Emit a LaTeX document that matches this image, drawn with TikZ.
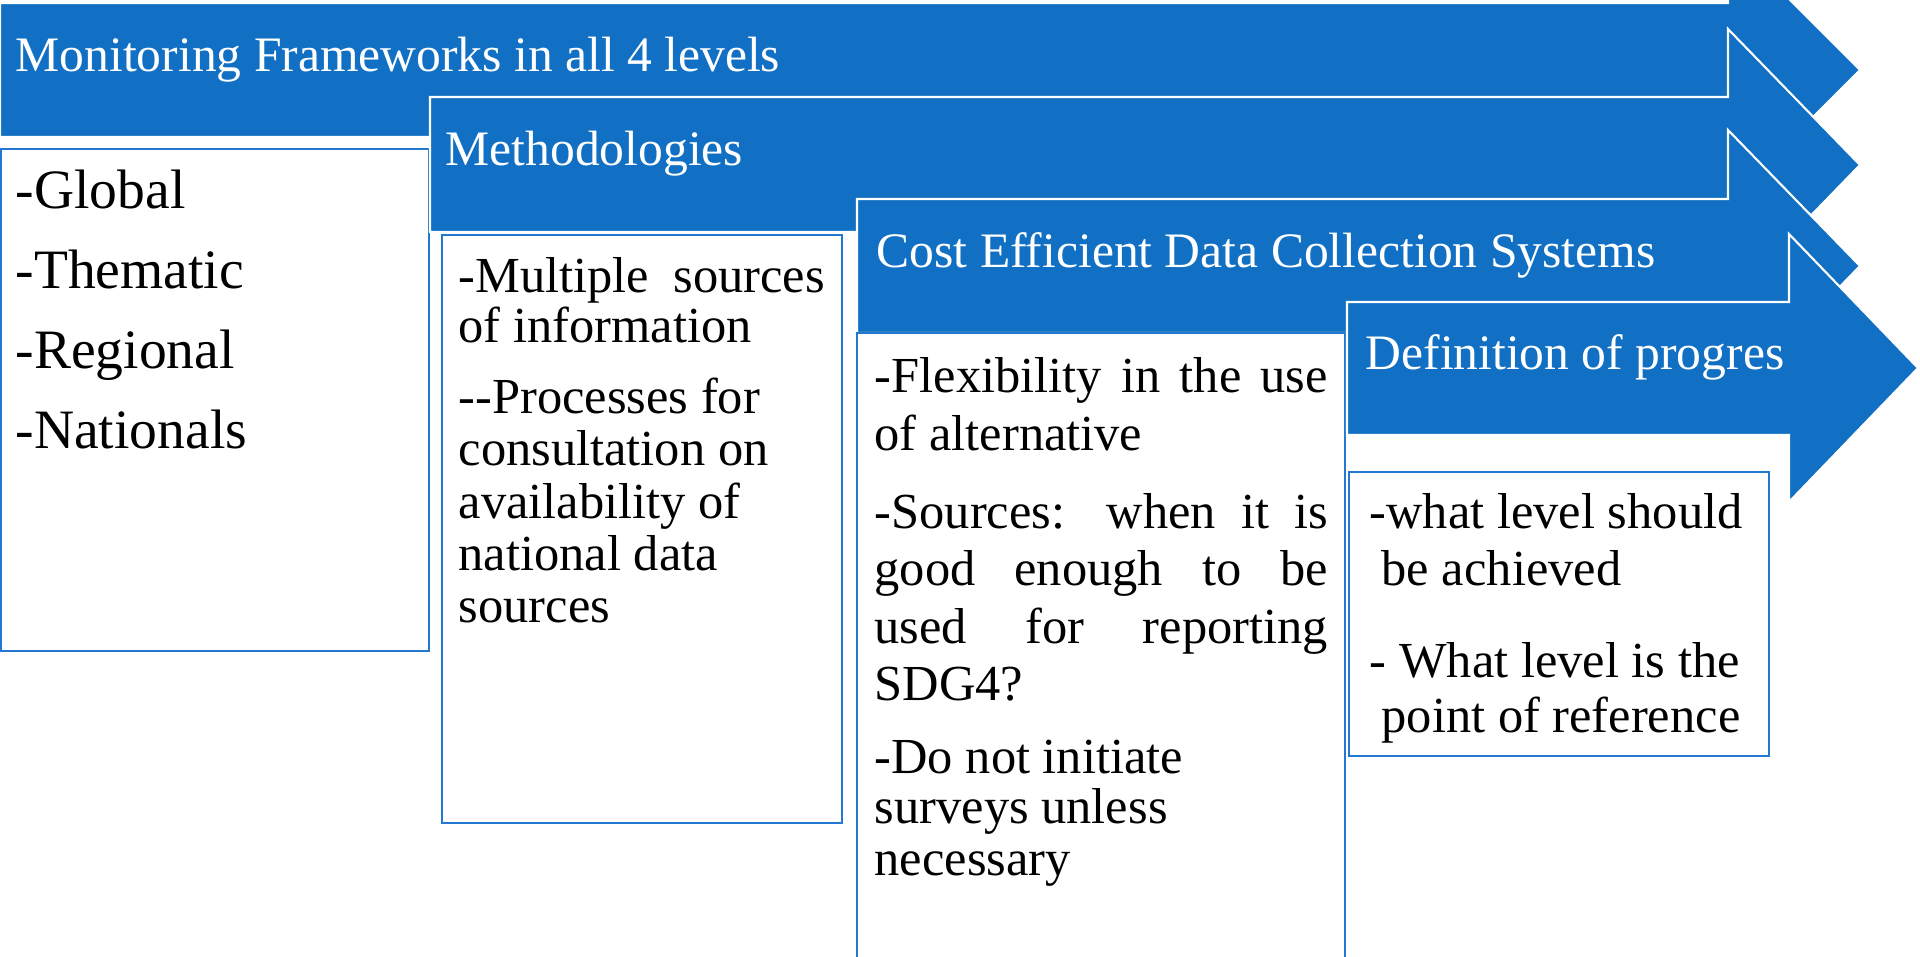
\documentclass[tikz,border=0pt]{standalone}
\usepackage{fontspec}
\setmainfont{Liberation Serif}
\definecolor{stageblue}{RGB}{17,112,196}
\definecolor{boxblue}{RGB}{34,121,207}
\newcommand{\justline}[2]{\makebox[#1][s]{#2}}

\begin{document}
\begin{tikzpicture}[x=0.01cm, y=-0.01cm,
  stage/.style={fill=stageblue, draw=white, line width=0.6pt},
  listbox/.style={draw=boxblue, line width=0.6pt, fill=white},
  headtext/.style={anchor=base west, inner sep=0pt, text=white, font=\fontsize{14.1}{16}\selectfont},
  itemtext/.style={anchor=base west, inner sep=0pt, font=\fontsize{14.35}{17}\selectfont},
  bigtext/.style={itemtext, font=\fontsize{15.8}{18}\selectfont}]
\useasboundingbox (0,0) rectangle (1920,957);
\clip (0,0) rectangle (1920,957);
% Stufe 1
\draw[stage] (0,3) -- (1728,3) -- (1728,-62) -- (1860,70) -- (1728,202) -- (1728,137) -- (0,137) -- cycle;
\draw[listbox] (1,149) rectangle (429,651);
\node[headtext] (frame) at (15,71) {Monitoring Frameworks in all 4 levels};
\node[bigtext] (glob) at (15,208) {-Global};
\node[bigtext] (them) at (15,288) {-Thematic};
\node[bigtext] (reg) at (15,368) {-Regional};
\node[bigtext] (nat) at (15,448) {-Nationals};
% Stufe 2
\draw[stage] (430,97) -- (1728,97) -- (1728,29) -- (1860,165) -- (1728,301) -- (1728,232) -- (430,232) -- cycle;
\draw[listbox] (442,235) rectangle (842,823);
\node[headtext] (meth) at (445,165) {Methodologies};
\node[itemtext] (m1) at (458,292) {\justline{3.66cm}{-Multiple sources}};
\node[itemtext] (m2) at (458,342) {of information};
\node[itemtext] (m3) at (458,413) {-{}-Processes for};
\node[itemtext] (m4) at (458,465) {consultation on};
\node[itemtext] (m5) at (458,518) {availability of};
\node[itemtext] (m6) at (458,570) {national data};
\node[itemtext] (m7) at (458,622) {sources};
% Stufe 3
\draw[stage] (857,199) -- (1728,199) -- (1728,130) -- (1860,266) -- (1728,402) -- (1728,333) -- (857,333) -- cycle;
\draw[listbox] (857,333) rectangle (1345,1000);
\node[headtext] (cost) at (876,267) {Cost Efficient Data Collection Systems};
\node[itemtext] (c1) at (874,392) {\justline{4.53cm}{-Flexibility in the use}};
\node[itemtext] (c2) at (874,450) {of alternative};
\node[itemtext] (c3) at (874,528) {\justline{4.53cm}{-Sources: when it is}};
\node[itemtext] (c4) at (874,585) {\justline{4.53cm}{good enough to be}};
\node[itemtext] (c5) at (874,643) {\justline{4.53cm}{used for reporting}};
\node[itemtext] (c6) at (874,700) {SDG4?};
\node[itemtext] (c7) at (874,773) {-Do not initiate};
\node[itemtext] (c8) at (874,823) {surveys unless};
\node[itemtext] (c9) at (874,875) {necessary};
% Stufe 4
\draw[stage] (1347,302) -- (1789,302) -- (1789,234) -- (1918,368) -- (1789,502) -- (1789,435) -- (1347,435) -- cycle;
\draw[listbox] (1349,472) rectangle (1769,756);
\node[headtext] (prog) at (1365,369) {Definition of progres};
\node[itemtext] (d1) at (1369,528) {-what level should};
\node[itemtext] (d2) at (1381,585) {be achieved};
\node[itemtext] (d3) at (1369,677) {- What level is the};
\node[itemtext] (d4) at (1381,732) {point of reference};
\end{tikzpicture}
\end{document}
